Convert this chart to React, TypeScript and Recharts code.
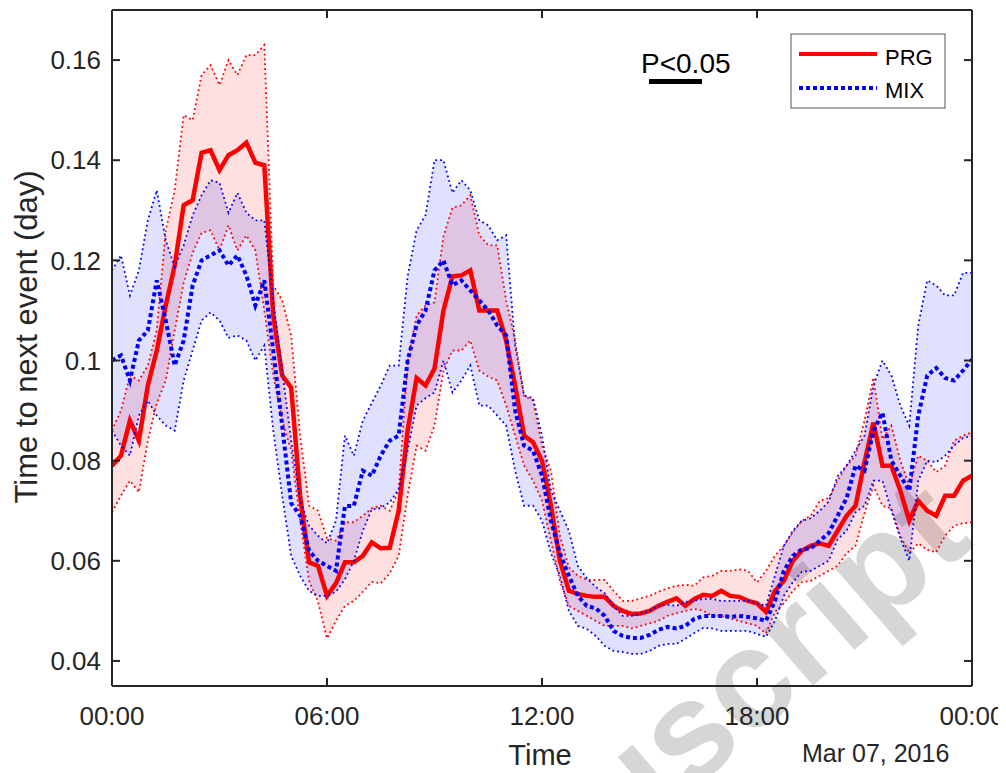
import React from 'react';
import { ComposedChart, Area, Line, XAxis, YAxis } from 'recharts';

// time of day in hours (sampled every 15 minutes)
const hours = [
  0, 0.25, 0.5, 0.75, 1, 1.25, 1.5, 1.75,
  2, 2.25, 2.5, 2.75, 3, 3.25, 3.5, 3.75,
  4, 4.25, 4.5, 4.75, 5, 5.25, 5.5, 5.75,
  6, 6.25, 6.5, 6.75, 7, 7.25, 7.5, 7.75,
  8, 8.25, 8.5, 8.75, 9, 9.25, 9.5, 9.75,
  10, 10.25, 10.5, 10.75, 11, 11.25, 11.5, 11.75,
  12, 12.25, 12.5, 12.75, 13, 13.25, 13.5, 13.75,
  14, 14.25, 14.5, 14.75, 15, 15.25, 15.5, 15.75,
  16, 16.25, 16.5, 16.75, 17, 17.25, 17.5, 17.75,
  18, 18.25, 18.5, 18.75, 19, 19.25, 19.5, 19.75,
  20, 20.25, 20.5, 20.75, 21, 21.25, 21.5, 21.75,
  22, 22.25, 22.5, 22.75, 23, 23.25, 23.5, 23.75,
  24,
];

const prgMean = [
  0.079, 0.081, 0.088, 0.084, 0.095, 0.102, 0.111, 0.119,
  0.131, 0.132, 0.1415, 0.142, 0.138, 0.141, 0.142, 0.1435,
  0.1395, 0.139, 0.109, 0.097, 0.0946, 0.073, 0.0597, 0.059,
  0.053, 0.0555, 0.0597, 0.0597, 0.061, 0.0637, 0.0625, 0.0626,
  0.07, 0.086, 0.0965, 0.095, 0.0984, 0.11, 0.1168, 0.117,
  0.118, 0.11, 0.11, 0.11, 0.104, 0.095, 0.085, 0.0837,
  0.08, 0.071, 0.06, 0.054, 0.0534, 0.053, 0.0528, 0.0528,
  0.051, 0.05, 0.0494, 0.0495, 0.05, 0.051, 0.0518, 0.0525,
  0.051, 0.0524, 0.0532, 0.053, 0.054, 0.053, 0.0528, 0.052,
  0.0515, 0.0498, 0.054, 0.056, 0.06, 0.062, 0.063, 0.0635,
  0.063, 0.066, 0.069, 0.071, 0.0797, 0.0876, 0.079, 0.079,
  0.074, 0.068, 0.072, 0.07, 0.069, 0.073, 0.073, 0.076,
  0.077,
];

const prgUpper = [
  0.086, 0.09, 0.097, 0.096, 0.099, 0.106, 0.126, 0.134,
  0.149, 0.148, 0.157, 0.159, 0.155, 0.16, 0.157, 0.161,
  0.161, 0.163, 0.115, 0.112, 0.105, 0.085, 0.071, 0.07,
  0.0645, 0.064, 0.0677, 0.0677, 0.069, 0.0705, 0.071, 0.07,
  0.074, 0.0996, 0.109, 0.111, 0.1116, 0.1248, 0.1305, 0.131,
  0.133, 0.125, 0.123, 0.123, 0.112, 0.104, 0.093, 0.092,
  0.083, 0.078, 0.065, 0.0587, 0.057, 0.0562, 0.0562, 0.0562,
  0.054, 0.052, 0.052, 0.0525, 0.053, 0.0538, 0.0545, 0.055,
  0.0552, 0.055, 0.0567, 0.057, 0.058, 0.058, 0.0583, 0.058,
  0.0557, 0.058, 0.061, 0.063, 0.0657, 0.068, 0.069, 0.072,
  0.0725, 0.076, 0.079, 0.081, 0.088, 0.0966, 0.0843, 0.087,
  0.08, 0.075, 0.081, 0.08, 0.0777, 0.079, 0.084, 0.085,
  0.0857,
];

const prgLower = [
  0.0697, 0.073, 0.076, 0.0737, 0.084, 0.0915, 0.096, 0.106,
  0.1155, 0.1215, 0.1255, 0.126, 0.122, 0.127, 0.122, 0.125,
  0.122, 0.11, 0.097, 0.088, 0.082, 0.068, 0.056, 0.0518,
  0.0445, 0.048, 0.051, 0.052, 0.0538, 0.0558, 0.0555, 0.0575,
  0.061, 0.073, 0.083, 0.082, 0.087, 0.098, 0.102, 0.102,
  0.104, 0.098, 0.0968, 0.096, 0.091, 0.085, 0.079, 0.076,
  0.072, 0.064, 0.056, 0.051, 0.05, 0.049, 0.048, 0.047,
  0.047, 0.047, 0.0465, 0.047, 0.0475, 0.048, 0.049, 0.0495,
  0.05, 0.0504, 0.05, 0.049, 0.049, 0.0485, 0.048, 0.0475,
  0.047, 0.0455, 0.0498, 0.0515, 0.054, 0.0557, 0.056, 0.057,
  0.058, 0.059, 0.0615, 0.063, 0.0695, 0.075, 0.071, 0.0705,
  0.065, 0.0615, 0.0635, 0.0622, 0.0617, 0.065, 0.067, 0.0675,
  0.0677,
];

const mixMean = [
  0.1, 0.101, 0.096, 0.104, 0.106, 0.116, 0.108, 0.099,
  0.104, 0.115, 0.12, 0.121, 0.122, 0.119, 0.121, 0.117,
  0.111, 0.116, 0.102, 0.087, 0.0715, 0.069, 0.062, 0.06,
  0.059, 0.058, 0.0709, 0.071, 0.078, 0.077, 0.081, 0.084,
  0.085, 0.1, 0.107, 0.11, 0.118, 0.12, 0.115, 0.116,
  0.114, 0.112, 0.11, 0.107, 0.105, 0.09, 0.083, 0.082,
  0.077, 0.068, 0.0615, 0.057, 0.053, 0.051, 0.0505, 0.049,
  0.046, 0.045, 0.0446, 0.0446, 0.0452, 0.0462, 0.0468, 0.0465,
  0.047, 0.0484, 0.049, 0.049, 0.049, 0.0488, 0.049, 0.0488,
  0.0485, 0.048, 0.052, 0.058, 0.061, 0.0623, 0.0625, 0.064,
  0.0655, 0.069, 0.0725, 0.079, 0.078, 0.086, 0.0896, 0.08,
  0.077, 0.074, 0.089, 0.097, 0.0985, 0.0965, 0.096, 0.098,
  0.1002,
];

const mixUpper = [
  0.118, 0.121, 0.113, 0.118, 0.128, 0.134, 0.124, 0.1187,
  0.123, 0.129, 0.133, 0.136, 0.1355, 0.1295, 0.1335, 0.1295,
  0.128, 0.128, 0.112, 0.098, 0.084, 0.072, 0.067, 0.065,
  0.0635, 0.068, 0.085, 0.081, 0.088, 0.0915, 0.095, 0.099,
  0.099, 0.1168, 0.126, 0.129, 0.14, 0.14, 0.1335, 0.136,
  0.134, 0.128, 0.127, 0.124, 0.125, 0.103, 0.093, 0.0925,
  0.085, 0.074, 0.07, 0.066, 0.059, 0.0565, 0.0548, 0.0535,
  0.051, 0.049, 0.049, 0.0495, 0.05, 0.051, 0.0512, 0.051,
  0.0518, 0.052, 0.0524, 0.0524, 0.052, 0.052, 0.052, 0.052,
  0.0515, 0.051, 0.057, 0.063, 0.066, 0.068, 0.0685, 0.07,
  0.0718, 0.0769, 0.079, 0.082, 0.085, 0.095, 0.1, 0.097,
  0.091, 0.087, 0.107, 0.116, 0.115, 0.113, 0.113, 0.1175,
  0.1175,
];

const mixLower = [
  0.086, 0.083, 0.081, 0.089, 0.092, 0.089, 0.087, 0.086,
  0.096, 0.102, 0.108, 0.1096, 0.108, 0.1045, 0.105, 0.104,
  0.1, 0.103, 0.086, 0.073, 0.061, 0.057, 0.054, 0.053,
  0.053, 0.0538, 0.0563, 0.06, 0.066, 0.0703, 0.0705, 0.0717,
  0.0743, 0.082, 0.091, 0.0925, 0.0936, 0.1, 0.0936, 0.096,
  0.099, 0.091, 0.091, 0.089, 0.087, 0.078, 0.071, 0.071,
  0.068, 0.0615, 0.057, 0.05, 0.047, 0.0464, 0.045, 0.043,
  0.042, 0.0418, 0.0414, 0.0414, 0.042, 0.043, 0.0434, 0.0434,
  0.0444, 0.0456, 0.0466, 0.0465, 0.046, 0.046, 0.046, 0.046,
  0.0454, 0.0448, 0.048, 0.053, 0.0557, 0.0578, 0.058, 0.059,
  0.06, 0.0643, 0.066, 0.0697, 0.071, 0.076, 0.076, 0.07,
  0.0645, 0.06, 0.076, 0.08, 0.0797, 0.081, 0.083, 0.0845,
  0.085,
];

const xTicks = [0, 6, 12, 18, 24];
const xTickLabels = ['00:00', '06:00', '12:00', '18:00', '00:00'];
const yTicks = [0.04, 0.06, 0.08, 0.1, 0.12, 0.14, 0.16];
const seriesNames = ['PRG', 'MIX'];
const xTitle = 'Time';
const yTitle = 'Time to next event (day)';
const dateText = 'Mar 07, 2016';
const sigText = 'P<0.05';
const watermarkText = 'Manuscript';

const data = hours.map((t, i) => ({
  t,
  prgMean: prgMean[i],
  prgBand: [prgLower[i], prgUpper[i]],
  prgLo: prgLower[i],
  prgHi: prgUpper[i],
  mixMean: mixMean[i],
  mixBand: [mixLower[i], mixUpper[i]],
  mixLo: mixLower[i],
  mixHi: mixUpper[i],
}));

const FONT = '"Liberation Sans", Arial, Helvetica, sans-serif';
const AX = '#262626';
const RED = '#ff0000';
const BLUE = '#0000ff';

const W = 998;
const H = 765;

export default function App() {
  const axisLine = { stroke: AX, strokeWidth: 2 };
  const tickLine = { stroke: AX, strokeWidth: 2 };
  const bound = { strokeWidth: 1.8, strokeDasharray: '1.8 3' };
  return (
    <div style={{ position: 'relative', width: W, height: H, background: '#fff', overflow: 'hidden' }}>
      <svg
        width={W}
        height={H}
        style={{ position: 'absolute', left: 0, top: 0, pointerEvents: 'none' }}
        fontFamily={FONT}
      >
        <text
          transform="translate(968 536) rotate(-41)"
          textAnchor="end"
          fontSize={140}
          fontWeight="bold"
          fill="#d6d6d6"
        >
          {watermarkText}
        </text>
      </svg>
      <div style={{ position: 'absolute', left: 0, top: 0 }}>
        <ComposedChart
          width={W}
          height={H}
          data={data}
          margin={{ top: 1, right: 33, left: 0, bottom: 8 }}
        >
          <XAxis
            dataKey="t"
            type="number"
            domain={[0, 24]}
            ticks={xTicks}
            interval={0}
            allowDataOverflow
            tickFormatter={(v: number) => xTickLabels[xTicks.indexOf(v)]}
            height={79}
            tickSize={-8}
            tickMargin={29}
            axisLine={axisLine}
            tickLine={tickLine}
            tick={{ fill: AX, fontSize: 26, fontFamily: FONT }}
          />
          <XAxis
            xAxisId="top"
            orientation="top"
            dataKey="t"
            type="number"
            domain={[0, 24]}
            ticks={xTicks}
            interval={0}
            height={1}
            tickSize={-8}
            axisLine={axisLine}
            tickLine={tickLine}
            tickFormatter={() => ''}
          />
          <YAxis
            type="number"
            domain={[0.035, 0.17]}
            allowDataOverflow
            ticks={yTicks}
            interval={0}
            width={104}
            tickSize={-8}
            tickMargin={19}
            tickFormatter={(v: number) => String(+v.toFixed(2))}
            axisLine={axisLine}
            tickLine={tickLine}
            tick={{ fill: AX, fontSize: 26, fontFamily: FONT }}
          />
          <YAxis
            yAxisId="right"
            orientation="right"
            type="number"
            domain={[0.035, 0.17]}
            allowDataOverflow
            ticks={yTicks}
            interval={0}
            width={1}
            tickSize={-8}
            axisLine={axisLine}
            tickLine={tickLine}
            tickFormatter={() => ''}
          />

          <Area dataKey="prgBand" stroke="none" fill={RED} fillOpacity={0.12} isAnimationActive={false} activeDot={false} />
          <Line dataKey="prgHi" stroke={RED} {...bound} dot={false} activeDot={false} isAnimationActive={false} />
          <Line dataKey="prgLo" stroke={RED} {...bound} dot={false} activeDot={false} isAnimationActive={false} />
          <Line dataKey="prgMean" name={seriesNames[0]} stroke={RED} strokeWidth={4.5} dot={false} activeDot={false} isAnimationActive={false} />

          <Area dataKey="mixBand" stroke="none" fill={BLUE} fillOpacity={0.12} isAnimationActive={false} activeDot={false} />
          <Line dataKey="mixHi" stroke={BLUE} {...bound} dot={false} activeDot={false} isAnimationActive={false} />
          <Line dataKey="mixLo" stroke={BLUE} {...bound} dot={false} activeDot={false} isAnimationActive={false} />
          <Line dataKey="mixMean" name={seriesNames[1]} stroke={BLUE} strokeWidth={4} strokeDasharray="4 3" dot={false} activeDot={false} isAnimationActive={false} />
        </ComposedChart>
      </div>

      <svg
        width={W}
        height={H}
        style={{ position: 'absolute', left: 0, top: 0, pointerEvents: 'none' }}
        fontFamily={FONT}
      >
        <text
          transform="translate(18 329) rotate(-90)"
          textAnchor="middle"
          dominantBaseline="central"
          fontSize={31}
          fill={AX}
        >
          {yTitle}
        </text>
        <text x={532} y={757} textAnchor="middle" fontSize={29} fill={AX}>
          {xTitle}
        </text>
        <text x={794} y={754} fontSize={25} fill={AX}>
          {dateText}
        </text>

        <text x={633} y={65} fontSize={28} fill="#000">
          {sigText}
        </text>
        <line x1={641} x2={694} y1={73.5} y2={73.5} stroke="#000" strokeWidth={5} />

        <rect x={783} y={26} width={154} height={74} fill="#fff" stroke="#555" strokeWidth={1} />
        <line x1={791} x2={869} y1={46} y2={46} stroke={RED} strokeWidth={4} />
        <text x={877} y={57} fontSize={22} fill="#000">
          {seriesNames[0]}
        </text>
        <line x1={791} x2={869} y1={80} y2={80} stroke={BLUE} strokeWidth={4} strokeDasharray="4 3" />
        <text x={877} y={90} fontSize={22} fill="#000">
          {seriesNames[1]}
        </text>
      </svg>
    </div>
  );
}
